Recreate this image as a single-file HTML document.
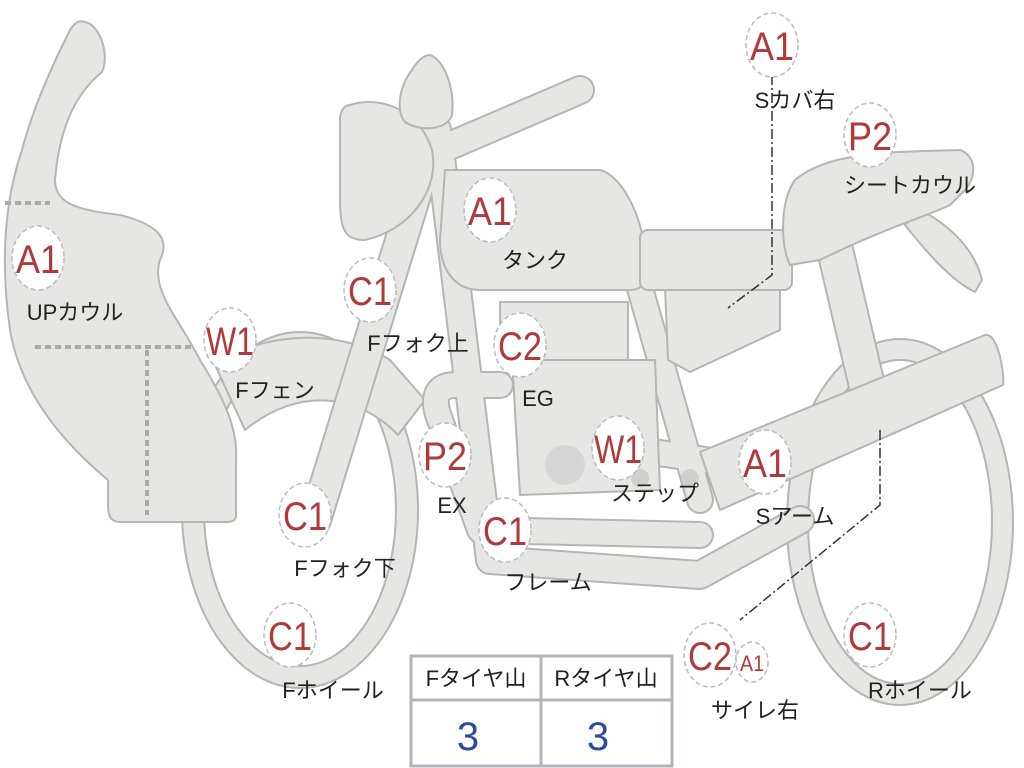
<!DOCTYPE html>
<html><head><meta charset="utf-8"><style>
html,body{margin:0;padding:0;background:#fff;}
svg{display:block}
.lb{font-family:"Liberation Sans","Noto Sans CJK JP",sans-serif;font-size:22px;fill:#222;}
.cl{font-family:"Liberation Sans",sans-serif;font-size:40px;fill:#b03a3a;}
</style></head><body>
<svg width="1024" height="768" viewBox="0 0 1024 768" xmlns="http://www.w3.org/2000/svg">
<g fill="#e6e6e4" stroke="#b5b5b5" stroke-width="2" stroke-linejoin="round">
<!-- wheels -->
<ellipse cx="300" cy="510" rx="118" ry="178"/>
<ellipse cx="300" cy="510" rx="96" ry="156" fill="#fff"/>
<ellipse cx="900" cy="522" rx="113" ry="183"/>
<ellipse cx="900" cy="522" rx="92" ry="162" fill="#fff"/>
<!-- fender -->
<path d="M215,365 C255,335 335,325 390,360 L425,400 L398,435 C360,395 300,385 245,430 Z"/>
<!-- cowl -->
<path d="M85,22 C100,25 110,55 102,72 C80,90 60,120 55,180 C55,205 80,210 120,215 C160,225 170,240 160,260 C150,290 180,320 200,360 C225,400 238,430 236,460 L236,515 C236,522 230,522 225,522 L120,522 C110,522 108,515 108,505 L108,480 C60,440 20,390 10,330 C0,260 5,200 22,150 C35,100 60,50 70,30 C75,22 80,20 85,22 Z"/>
</g>
<g fill="none" stroke="#aaa" stroke-width="4" stroke-dasharray="6,4">
<path d="M5,203 L50,203 M35,347 L195,347 M147,350 L147,515"/>
</g>
<!-- tubes -->
<g fill="none" stroke-linecap="round" stroke-linejoin="round">
<g stroke="#b5b5b5">
<path d="M440,150 L580,90" stroke-width="30"/>
<path d="M440,150 L490,560 L700,575 L800,520" stroke-width="30"/>
<path d="M615,200 L700,500" stroke-width="28"/>
<path d="M500,385 L455,385 C435,385 432,400 440,420 L480,530 L700,535" stroke-width="28"/>
<path d="M640,450 L770,470" stroke-width="28"/>
<path d="M835,250 L875,420" stroke-width="38"/>
<path d="M435,130 L315,520" stroke-width="34"/>
</g>
<g stroke="#e6e6e4">
<path d="M440,150 L580,90" stroke-width="26"/>
<path d="M440,150 L490,560 L700,575 L800,520" stroke-width="26"/>
<path d="M615,200 L700,500" stroke-width="24"/>
<path d="M500,385 L455,385 C435,385 432,400 440,420 L480,530 L700,535" stroke-width="24"/>
<path d="M640,450 L770,470" stroke-width="24"/>
<path d="M835,250 L875,420" stroke-width="34"/>
<path d="M435,130 L315,520" stroke-width="30"/>
</g>
</g>
<g fill="#e6e6e4" stroke="#b5b5b5" stroke-width="2" stroke-linejoin="round">
<path d="M350,105 C380,95 420,110 432,150 C440,190 410,230 365,240 C345,240 340,230 340,200 L340,120 C340,110 345,105 350,105 Z"/>
<path d="M430,55 C445,60 455,90 452,115 C448,130 420,132 405,122 C395,110 400,85 412,70 C418,60 424,55 430,55 Z"/>
<path d="M445,170 L600,170 C620,175 640,210 645,250 L645,275 C645,285 640,290 630,290 L480,290 C455,290 440,270 440,240 Z"/>
<rect x="500" y="302" width="128" height="58"/>
<path d="M512,360 L655,360 L660,490 L520,495 Z"/>
<path d="M665,288 L780,288 L780,330 L690,372 L668,360 Z"/>
<rect x="640" y="230" width="152" height="60" rx="8"/>
<path d="M920,210 C950,225 975,250 982,280 L975,292 C950,280 925,250 905,225 Z"/>
<path d="M795,180 C830,150 900,152 960,150 C975,155 978,175 965,190 L950,205 C930,215 880,230 820,260 L790,265 C780,245 780,200 795,180 Z"/>
<path d="M700,452 L985,335 C998,332 1005,375 1003,385 L720,510 Z"/>
</g>
<circle cx="565" cy="465" r="20" fill="#d6d6d6"/>
<circle cx="640" cy="478" r="9" fill="#cfcfcf"/>
<circle cx="690" cy="478" r="9" fill="#cfcfcf"/>
<!-- leader lines -->
<g fill="none" stroke="#333" stroke-width="1.5" stroke-dasharray="10,3,2,3">
<path d="M772,75 L772,275 L728,308"/>
<path d="M880,430 L880,505 L740,620"/>
</g>
<!-- label circles -->
<g fill="#fff" stroke="#bbb" stroke-width="1.5" stroke-dasharray="5,3">
<ellipse cx="772" cy="45" rx="26" ry="32"/>
<ellipse cx="870" cy="135" rx="26" ry="32"/>
<ellipse cx="490" cy="210" rx="26" ry="32"/>
<ellipse cx="38" cy="258" rx="26" ry="32"/>
<ellipse cx="370" cy="290" rx="26" ry="32"/>
<ellipse cx="520" cy="345" rx="26" ry="32"/>
<ellipse cx="230" cy="340" rx="26" ry="32"/>
<ellipse cx="445" cy="455" rx="26" ry="32"/>
<ellipse cx="618" cy="448" rx="26" ry="32"/>
<ellipse cx="765" cy="462" rx="26" ry="32"/>
<ellipse cx="305" cy="515" rx="26" ry="32"/>
<ellipse cx="505" cy="530" rx="26" ry="32"/>
<ellipse cx="290" cy="635" rx="26" ry="32"/>
<ellipse cx="710" cy="655" rx="26" ry="32"/>
<ellipse cx="752" cy="662" rx="16" ry="20"/>
<ellipse cx="870" cy="635" rx="26" ry="32"/>
</g>
<g class="cl" text-anchor="middle">
<text x="772" y="60" textLength="44" lengthAdjust="spacingAndGlyphs">A1</text>
<text x="870" y="150" textLength="44" lengthAdjust="spacingAndGlyphs">P2</text>
<text x="490" y="225" textLength="44" lengthAdjust="spacingAndGlyphs">A1</text>
<text x="38" y="273" textLength="44" lengthAdjust="spacingAndGlyphs">A1</text>
<text x="370" y="305" textLength="44" lengthAdjust="spacingAndGlyphs">C1</text>
<text x="520" y="360" textLength="44" lengthAdjust="spacingAndGlyphs">C2</text>
<text x="230" y="355" textLength="48" lengthAdjust="spacingAndGlyphs">W1</text>
<text x="445" y="470" textLength="44" lengthAdjust="spacingAndGlyphs">P2</text>
<text x="618" y="463" textLength="48" lengthAdjust="spacingAndGlyphs">W1</text>
<text x="765" y="477" textLength="44" lengthAdjust="spacingAndGlyphs">A1</text>
<text x="305" y="530" textLength="44" lengthAdjust="spacingAndGlyphs">C1</text>
<text x="505" y="545" textLength="44" lengthAdjust="spacingAndGlyphs">C1</text>
<text x="290" y="650" textLength="44" lengthAdjust="spacingAndGlyphs">C1</text>
<text x="710" y="670" textLength="44" lengthAdjust="spacingAndGlyphs">C2</text>
<text x="752" y="671" font-size="22" textLength="24" lengthAdjust="spacingAndGlyphs">A1</text>
<text x="870" y="650" textLength="44" lengthAdjust="spacingAndGlyphs">C1</text>
</g>
<g class="lb" text-anchor="middle">
<text x="795" y="108">Sカバ右</text>
<text x="910" y="193">シートカウル</text>
<text x="535" y="268">タンク</text>
<text x="75" y="320">UPカウル</text>
<text x="418" y="351">Fフォク上</text>
<text x="538" y="406">EG</text>
<text x="275" y="398">Fフェン</text>
<text x="452" y="513">EX</text>
<text x="655" y="501">ステップ</text>
<text x="795" y="524">Sアーム</text>
<text x="345" y="576">Fフォク下</text>
<text x="548" y="590">フレーム</text>
<text x="333" y="698">Fホイール</text>
<text x="755" y="718">サイレ右</text>
<text x="920" y="698">Rホイール</text>
</g>
<!-- table -->
<g fill="none" stroke="#b0b4bb" stroke-width="3">
<rect x="411" y="656" width="261" height="110"/>
<line x1="411" y1="700" x2="672" y2="700"/>
<line x1="541" y1="656" x2="541" y2="766"/>
</g>
<g class="lb" text-anchor="middle">
<text x="476" y="686">Fタイヤ山</text>
<text x="606" y="686">Rタイヤ山</text>
</g>
<g font-family="Liberation Sans,sans-serif" font-size="40" fill="#2a4a9a" text-anchor="middle">
<text x="468" y="750">3</text>
<text x="598" y="750">3</text>
</g>
</svg>
</body></html>
